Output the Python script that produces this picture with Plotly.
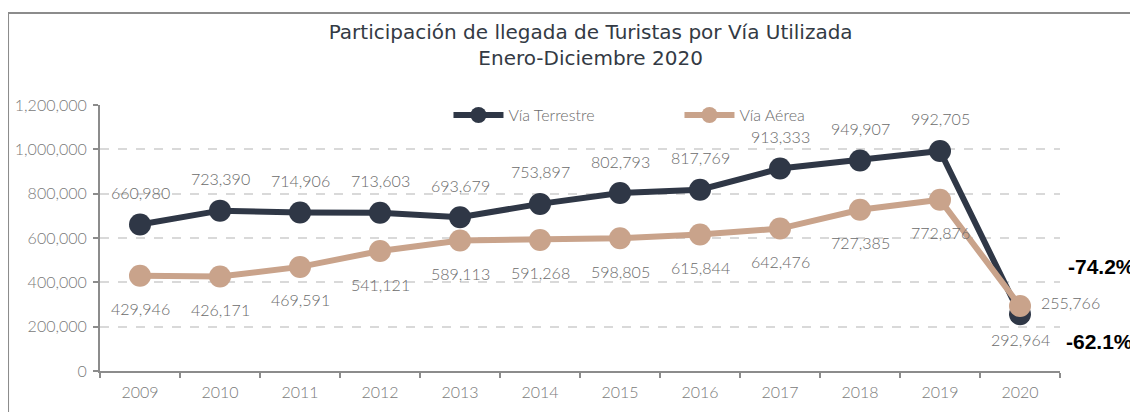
import plotly.graph_objects as go

years = ["2009", "2010", "2011", "2012", "2013", "2014", "2015", "2016", "2017", "2018", "2019", "2020"]
terrestre = [660980, 723390, 714906, 713603, 693679, 753897, 802793, 817769, 913333, 949907, 992705, 255766]
aerea = [429946, 426171, 469591, 541121, 589113, 591268, 598805, 615844, 642476, 727385, 772876, 292964]
y_ticks = [0, 200000, 400000, 600000, 800000, 1000000, 1200000]
y_tick_labels = ["0", "200,000", "400,000", "600,000", "800,000", "1,000,000", "1,200,000"]
pct_terrestre = "-74.2%"
pct_aerea = "-62.1%"

DARK = "#2f3746"
TAN = "#c9a38b"
FONT = "Lato"
LABEL_COLOR = "#6b6b6b"
LBL_FONT = dict(family=FONT, size=16, color=LABEL_COLOR, weight=300)

fig = go.Figure()
fig.add_trace(go.Scatter(
    x=years, y=terrestre, name="Vía Terrestre", mode="lines+markers",
    line=dict(color=DARK, width=6), marker=dict(color=DARK, size=22),
))
fig.add_trace(go.Scatter(
    x=years, y=aerea, name="Vía Aérea", mode="lines+markers",
    line=dict(color=TAN, width=6), marker=dict(color=TAN, size=22),
))

annotations = []
n = len(years)
for i, v in enumerate(terrestre):
    if i == n - 1:
        annotations.append(dict(x=i, y=v, text=f"{v:,}", showarrow=False, xanchor="left",
                                xshift=19, yshift=12, font=LBL_FONT))
    else:
        annotations.append(dict(x=i, y=v, text=f"{v:,}", showarrow=False,
                                yshift=32, font=LBL_FONT))
for i, v in enumerate(aerea):
    annotations.append(dict(x=i, y=v, text=f"{v:,}", showarrow=False,
                            yshift=-33, font=LBL_FONT))

annotations.append(dict(x=n - 1, y=terrestre[-1], text=f"<b>{pct_terrestre}</b>", showarrow=False,
                        xanchor="left", xshift=46, yshift=48,
                        font=dict(family="Liberation Sans", size=21, color="#000000")))
annotations.append(dict(x=n - 1, y=aerea[-1], text=f"<b>{pct_aerea}</b>", showarrow=False,
                        xanchor="left", xshift=44, yshift=-35,
                        font=dict(family="Liberation Sans", size=21, color="#000000")))

fig.update_layout(
    width=1138, height=412,
    margin=dict(l=92, r=86, t=97, b=49),
    paper_bgcolor="white", plot_bgcolor="white",
    title=dict(text="Participación de llegada de Turistas por Vía Utilizada<br>Enero-Diciembre 2020",
               x=0.512, xanchor="center", y=0.925, yanchor="middle",
               font=dict(family="DejaVu Sans", size=20, color="#333a44", weight=400)),
    showlegend=True,
    legend=dict(orientation="h", x=0.363, y=0.962, xanchor="left", yanchor="middle",
                bgcolor="rgba(0,0,0,0)", font=dict(family=FONT, size=16, color=LABEL_COLOR, weight=300),
                entrywidth=166, entrywidthmode="pixels", itemwidth=50),
    annotations=annotations,
    shapes=[dict(type="rect", xref="paper", yref="paper", x0=-0.0958, x1=1.3, y0=-0.5, y1=1.346,
                 line=dict(color="#8c8c8c", width=2), fillcolor="rgba(0,0,0,0)", layer="below")],
)
fig.update_xaxes(
    type="category", range=[-0.5, 11.5], showgrid=False, automargin=False,
    showline=True, linecolor="#8c8c8c", linewidth=2,
    ticks="outside", tickson="boundaries", ticklen=5, tickcolor="#8c8c8c", tickwidth=2,
    ticklabelstandoff=6,
    tickfont=dict(family=FONT, size=16, color="#7a7a7a", weight=300),
)
fig.update_yaxes(
    range=[0, 1200000], tickvals=y_ticks, ticktext=y_tick_labels, automargin=False,
    showgrid=True, gridcolor="#d9d9d9", griddash="dash", gridwidth=1.5,
    showline=True, linecolor="#8c8c8c", linewidth=2,
    ticks="outside", ticklen=5, tickcolor="#8c8c8c", tickwidth=2,
    ticklabelstandoff=3,
    tickfont=dict(family=FONT, size=16, color="#7a7a7a", weight=300),
    zeroline=False,
)

fig.write_html("out.html")
